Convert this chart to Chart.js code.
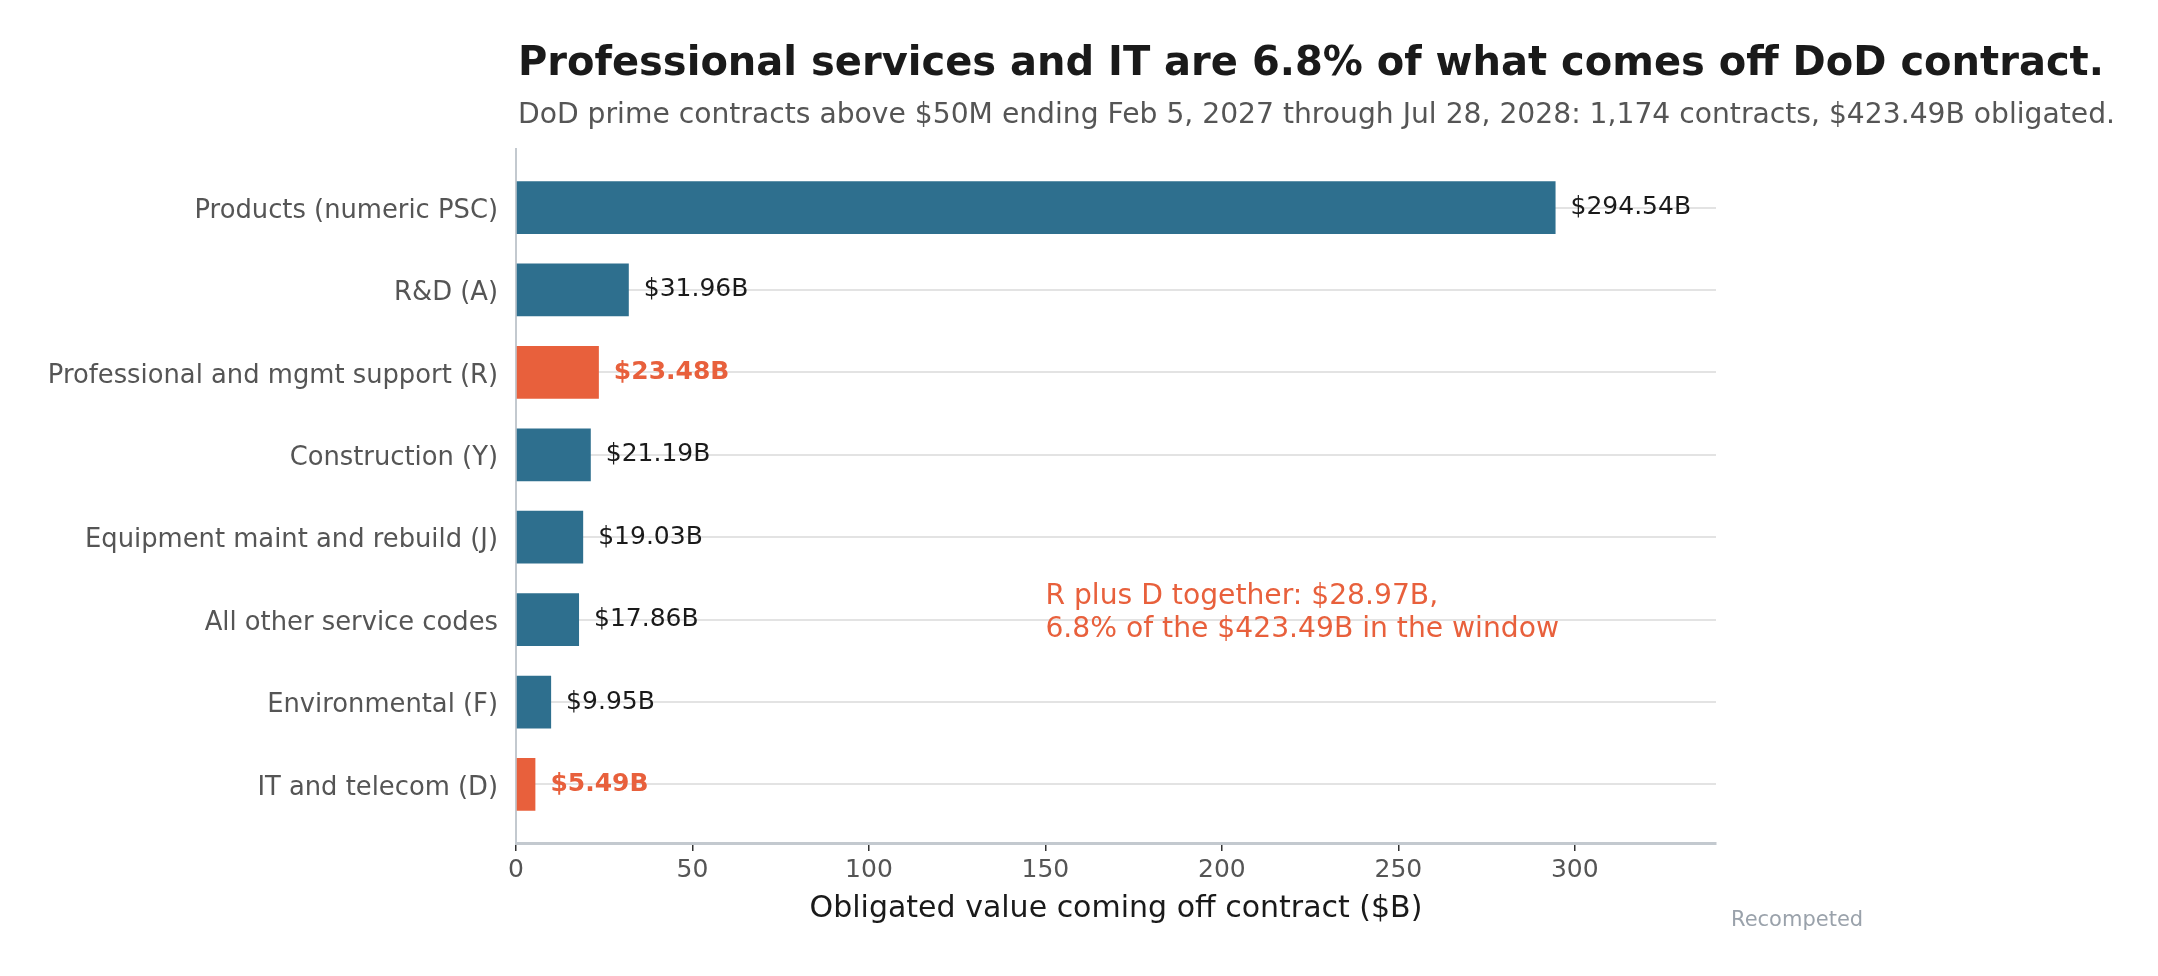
<!DOCTYPE html>
<html>
<head>
<meta charset="utf-8">
<title>DoD contracts by service category</title>
<script src="https://cdn.jsdelivr.net/npm/chart.js@4.4.1/dist/chart.umd.min.js"></script>
<style>
  html, body { margin: 0; background: #fff; }
</style>
</head>
<body>
<canvas id="chart" width="2158" height="976"></canvas>
<script>
const categories = [
  'Products (numeric PSC)',
  'R&D (A)',
  'Professional and mgmt support (R)',
  'Construction (Y)',
  'Equipment maint and rebuild (J)',
  'All other service codes',
  'Environmental (F)',
  'IT and telecom (D)'
];
const values = [294.54, 31.96, 23.48, 21.19, 19.03, 17.86, 9.95, 5.49];
const highlighted = [false, false, true, false, false, false, false, true];
const valueLabels = ['$294.54B', '$31.96B', '$23.48B', '$21.19B', '$19.03B', '$17.86B', '$9.95B', '$5.49B'];
const xTickValues = [0, 50, 100, 150, 200, 250, 300];

const titleText = 'Professional services and IT are 6.8% of what comes off DoD contract.';
const subtitleText = 'DoD prime contracts above $50M ending Feb 5, 2027 through Jul 28, 2028: 1,174 contracts, $423.49B obligated.';
const noteLines = ['R plus D together: $28.97B,', '6.8% of the $423.49B in the window'];
const noteAt = { x: 150, y: 4.91 };
const sourceText = 'Recompeted';

const BLUE = '#2e6f8e';
const ORANGE = '#e8603c';
const FONT = '"DejaVu Sans", "Liberation Sans", sans-serif';

const textLayer = {
  id: 'textLayer',
  afterDatasetsDraw(chart) {
    const { ctx, scales } = chart;
    const bars = chart.getDatasetMeta(0).data;
    ctx.save();
    ctx.textBaseline = 'middle';
    ctx.textAlign = 'left';
    bars.forEach((bar, i) => {
      ctx.font = (highlighted[i] ? 'bold ' : '') + '25px ' + FONT;
      ctx.fillStyle = highlighted[i] ? ORANGE : '#1a1a1a';
      ctx.fillText(valueLabels[i], bar.x + 15, bar.y);
    });

    // annotation next to the small bars
    const nx = scales.x.getPixelForValue(noteAt.x);
    const ny = scales.y.getPixelForValue(noteAt.y);
    ctx.font = '28.2px ' + FONT;
    ctx.fillStyle = ORANGE;
    ctx.fillText(noteLines[0], nx, ny - 16);
    ctx.fillText(noteLines[1], nx, ny + 17);
    ctx.restore();
  },
  afterDraw(chart) {
    const { ctx, chartArea } = chart;
    ctx.save();
    ctx.textAlign = 'left';
    ctx.textBaseline = 'alphabetic';
    ctx.fillStyle = '#1a1a1a';
    ctx.font = 'bold 40px ' + FONT;
    ctx.fillText(titleText, chartArea.left + 2, 75);
    ctx.fillStyle = '#555555';
    ctx.font = '28.2px ' + FONT;
    ctx.fillText(subtitleText, chartArea.left + 2, 123);

    ctx.fillStyle = '#9aa2ab';
    ctx.font = '21px ' + FONT;
    ctx.textBaseline = 'middle';
    ctx.fillText(sourceText, chartArea.right + 15, 921);
    ctx.restore();
  }
};

const ctx = document.getElementById('chart');

const chart = new Chart(ctx, {
  type: 'bar',
  data: {
    datasets: [{
      data: values.map((v, i) => ({ x: v, y: i })),
      backgroundColor: highlighted.map(h => h ? ORANGE : BLUE),
      borderWidth: 0,
      categoryPercentage: 1,
      barPercentage: 0.64
    }]
  },
  options: {
    indexAxis: 'y',
    responsive: false,
    animation: false,
    devicePixelRatio: 1,
    layout: { padding: { top: 149, right: 442, bottom: 0, left: 0 } },
    plugins: {
      legend: { display: false },
      tooltip: { enabled: false }
    },
    scales: {
      x: {
        type: 'linear',
        min: 0,
        max: 340,
        afterBuildTicks: (axis) => { axis.ticks = xTickValues.map(v => ({ value: v })); },
        afterFit: (axis) => { axis.height = 133; },
        grid: {
          drawOnChartArea: false,
          drawTicks: true,
          tickLength: 8,
          tickColor: '#333333',
          lineWidth: 1.5
        },
        border: { color: '#c3c9cf', width: 3 },
        ticks: {
          color: '#555555',
          font: { family: FONT, size: 25 },
          padding: 4
        },
        title: {
          display: true,
          text: 'Obligated value coming off contract ($B)',
          color: '#1a1a1a',
          font: { family: FONT, size: 30 },
          padding: { top: 0, bottom: 49 }
        }
      },
      y: {
        type: 'linear',
        reverse: true,
        offset: false,
        min: -0.71,
        max: 7.71,
        afterBuildTicks: (axis) => { axis.ticks = categories.map((c, i) => ({ value: i })); },
        afterFit: (axis) => { axis.width = 516; },
        grid: {
          offset: false,
          color: '#e3e3e3',
          lineWidth: 2,
          drawTicks: false
        },
        border: { color: '#c3c9cf', width: 2 },
        ticks: {
          color: '#555555',
          font: { family: FONT, size: 25.8 },
          padding: 18,
          labelOffset: 3.5,
          callback: (v) => categories[v]
        }
      }
    }
  },
  plugins: [textLayer]
});
</script>
</body>
</html>
